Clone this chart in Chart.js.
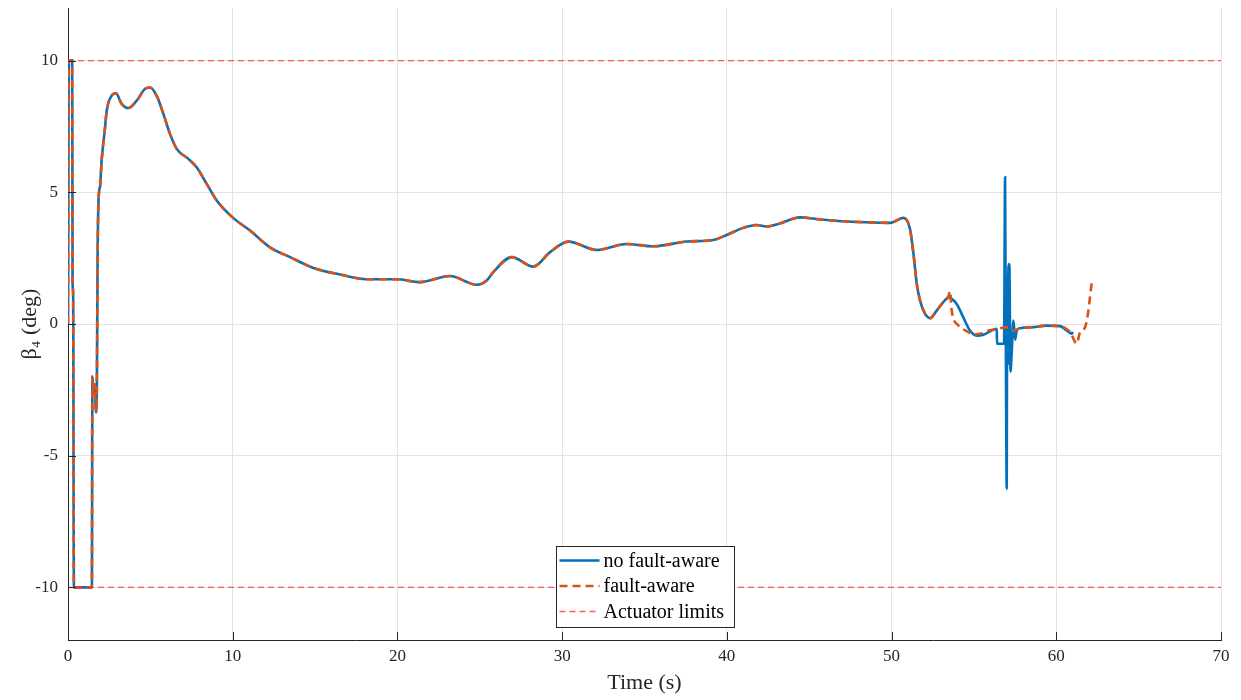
<!DOCTYPE html>
<html>
  <head>
    <title>Beta 4</title>
    <script src="https://cdn.jsdelivr.net/npm/chart.js"></script>
    <style>
      body { margin: 0; background: #fff; }
    </style>
  </head>
  <body>
    <canvas id="betaChart" width="1241" height="700"></canvas>

    <script>
      // time (s) and beta_4 (deg), run without fault awareness
      const tNoFault = [
        0, 0.05, 0.25, 0.28, 0.31, 0.36, 1.45, 1.48, 1.55, 1.62, 1.7, 1.75, 1.8, 1.9, 1.94,
        2.04, 2.25, 2.35, 2.65, 2.91, 3.26, 3.66, 4.17, 4.68, 4.98, 5.38, 5.79, 6.19, 6.6,
        7.31, 7.81, 8.42, 9.03, 10.04, 11.05, 12.26, 13.48, 14.9, 16.51, 18.13, 19.96,
        21.37, 23.19, 24.81, 25.42, 25.82, 26.94, 28.25, 29.27, 30.38, 32.1, 33.92, 35.54,
        37.56, 39.18, 39.99, 41.0, 41.81, 42.42, 43.23, 44.44, 45.66, 47.07, 48.69, 49.91,
        50.72, 51.12, 51.33, 51.53, 51.73, 52.03, 52.34, 52.74, 53.14, 53.45, 53.94, 54.35,
        54.76, 55.17, 55.57, 55.98, 56.39, 56.4, 56.83, 56.89, 56.95, 56.99, 57.02, 57.05,
        57.09, 57.15, 57.22, 57.3, 57.4, 57.5, 57.6, 57.8, 58.6, 59.42, 60.23, 60.64, 60.94, 61.0
      ];
      const betaNoFault = [
        0, 10, 10, 1.5, 1.2, -10, -10, -2.0, -2.6, -2.3, -3.35, -2.5, 2.8, 5.1, 5.19,
        6.2, 7.47, 8.1, 8.67, 8.76, 8.36, 8.2, 8.48, 8.93, 8.98, 8.67, 7.98, 7.22, 6.65,
        6.27, 5.95, 5.32, 4.69, 4.02, 3.55, 2.91, 2.54, 2.13, 1.88, 1.7, 1.7,
        1.59, 1.82, 1.49, 1.65, 1.97, 2.54, 2.18, 2.73, 3.13, 2.81, 3.04, 2.95,
        3.13, 3.19, 3.38, 3.65, 3.76, 3.7, 3.82, 4.05, 3.97, 3.9, 3.86, 3.84,
        4.03, 3.6, 2.66, 1.53, 0.89, 0.39, 0.22, 0.51, 0.83, 1.0, 0.77, 0.26,
        -0.25, -0.44, -0.41, -0.28, -0.18, -0.75, -0.75, 5.57, -2.5, -6.25, 1.8, -1.5,
        2.1, 2.28, -1.8, -1.0, 0.13, -0.6, -0.25, -0.16, -0.12, -0.06, -0.08, -0.25, -0.37, -0.3
      ];

      // time (s) and beta_4 (deg), fault-aware run
      const tFault = [
        0, 0.05, 0.25, 0.28, 0.31, 0.36, 1.45, 1.48, 1.55, 1.62, 1.7, 1.75, 1.8, 1.9, 1.94,
        2.04, 2.25, 2.35, 2.65, 2.91, 3.26, 3.66, 4.17, 4.68, 4.98, 5.38, 5.79, 6.19, 6.6,
        7.31, 7.81, 8.42, 9.03, 10.04, 11.05, 12.26, 13.48, 14.9, 16.51, 18.13, 19.96,
        21.37, 23.19, 24.81, 25.42, 25.82, 26.94, 28.25, 29.27, 30.38, 32.1, 33.92, 35.54,
        37.56, 39.18, 39.99, 41.0, 41.81, 42.42, 43.23, 44.44, 45.66, 47.07, 48.69, 49.91,
        50.72, 51.12, 51.33, 51.53, 51.73, 52.03, 52.34, 52.74, 53.14, 53.45, 53.55, 53.65,
        54.05, 54.5, 55.0, 55.37, 55.9, 56.3, 57.1, 57.4, 57.8, 58.6, 59.42, 60.23, 60.64,
        60.9, 61.04, 61.24, 61.44, 61.75, 61.95, 62.15, 62.2
      ];
      const betaFault = [
        0, 10, 10, 1.5, 1.2, -10, -10, -2.0, -2.6, -2.3, -3.35, -2.5, 2.8, 5.1, 5.19,
        6.2, 7.47, 8.1, 8.67, 8.76, 8.36, 8.2, 8.48, 8.93, 8.98, 8.67, 7.98, 7.22, 6.65,
        6.27, 5.95, 5.32, 4.69, 4.02, 3.55, 2.91, 2.54, 2.13, 1.88, 1.7, 1.7,
        1.59, 1.82, 1.49, 1.65, 1.97, 2.54, 2.18, 2.73, 3.13, 2.81, 3.04, 2.95,
        3.13, 3.19, 3.38, 3.65, 3.76, 3.7, 3.82, 4.05, 3.97, 3.9, 3.86, 3.84,
        4.03, 3.6, 2.66, 1.53, 0.89, 0.39, 0.22, 0.51, 0.83, 1.05, 1.25, 0.51,
        -0.05, -0.25, -0.4, -0.37, -0.25, -0.2, -0.12, -0.25, -0.16, -0.12, -0.06, -0.08, -0.2,
        -0.35, -0.56, -0.75, -0.31, -0.12, 0.51, 1.53, 1.6
      ];

      const limitValues = [10, -10];
      const xRange = [0, 70];
      const yRange = [-12, 12];
      const xTicks = [0, 10, 20, 30, 40, 50, 60, 70];
      const yTicks = [-10, -5, 0, 5, 10];

      const serif = "'Liberation Serif', 'DejaVu Serif', serif";
      const ink = "#262626";

      const toPoints = (xs, ys) => xs.map((x, i) => ({ x: x, y: ys[i] }));
      const limitLine = (v) => [{ x: xRange[0], y: v }, { x: xRange[1], y: v }];

      // lower "order" is painted on top
      const datasets = [
        {
          label: "no fault-aware",
          data: toPoints(tNoFault, betaNoFault),
          borderColor: "#0072BD",
          borderWidth: 2.6,
          cubicInterpolationMode: "monotone",
          order: 2,
          inLegend: true,
        },
        {
          label: "fault-aware",
          data: toPoints(tFault, betaFault),
          borderColor: "#D95319",
          borderWidth: 2.6,
          borderDash: [8, 5],
          cubicInterpolationMode: "monotone",
          order: 1,
          inLegend: true,
        },
        {
          label: "Actuator limits",
          data: limitLine(limitValues[0]),
          borderColor: "rgba(255, 40, 40, 0.75)",
          borderWidth: 1.3,
          borderDash: [6, 4],
          order: 0,
          inLegend: true,
        },
        {
          label: "Actuator limits (lower)",
          data: limitLine(limitValues[1]),
          borderColor: "rgba(255, 40, 40, 0.75)",
          borderWidth: 1.3,
          borderDash: [6, 4],
          order: 0,
          inLegend: false,
        },
      ];

      // tick marks pointing into the plot
      const innerTicks = {
        id: "innerTicks",
        afterDatasetsDraw(chart) {
          const { ctx, chartArea, scales } = chart;
          ctx.save();
          ctx.strokeStyle = ink;
          ctx.lineWidth = 1;
          xTicks.forEach((v) => {
            const px = Math.round(scales.x.getPixelForValue(v)) + 0.5;
            ctx.beginPath();
            ctx.moveTo(px, chartArea.bottom);
            ctx.lineTo(px, chartArea.bottom - 8);
            ctx.stroke();
          });
          yTicks.forEach((v) => {
            const py = Math.round(scales.y.getPixelForValue(v)) + 0.5;
            ctx.beginPath();
            ctx.moveTo(chartArea.left, py);
            ctx.lineTo(chartArea.left + 8, py);
            ctx.stroke();
          });
          ctx.restore();
        },
      };

      // boxed legend near the bottom centre of the plot
      const boxLegend = {
        id: "boxLegend",
        afterDraw(chart) {
          const { ctx, chartArea } = chart;
          const items = chart.data.datasets.filter((d) => d.inLegend);
          const w = 178, h = 81, rowH = 25.5;
          const x0 = Math.round((chartArea.left + chartArea.right) / 2 - w / 2) + 0.5;
          const y0 = Math.round(chartArea.bottom - 13 - h) + 0.5;
          ctx.save();
          ctx.fillStyle = "#fff";
          ctx.fillRect(x0, y0, w, h);
          ctx.strokeStyle = ink;
          ctx.lineWidth = 1;
          ctx.setLineDash([]);
          ctx.strokeRect(x0, y0, w, h);
          ctx.font = "20px " + serif;
          ctx.textBaseline = "middle";
          items.forEach((d, i) => {
            const cy = y0 + 14 + i * rowH;
            ctx.strokeStyle = d.borderColor;
            ctx.lineWidth = d.borderWidth;
            ctx.setLineDash(d.borderDash || []);
            ctx.beginPath();
            ctx.moveTo(x0 + 3, cy);
            ctx.lineTo(x0 + 43, cy);
            ctx.stroke();
            ctx.fillStyle = "#000";
            ctx.fillText(d.label, x0 + 47, cy + 1);
          });
          ctx.restore();
        },
      };

      new Chart(document.getElementById("betaChart"), {
        type: "line",
        data: { datasets: datasets },
        plugins: [innerTicks, boxLegend],
        options: {
          responsive: false,
          animation: false,
          layout: { padding: { top: 8, right: 20, left: 0, bottom: 0 } },
          elements: { point: { radius: 0 }, line: { tension: 0 } },
          plugins: { legend: { display: false }, tooltip: { enabled: false } },
          scales: {
            x: {
              type: "linear",
              min: xRange[0],
              max: xRange[1],
              afterBuildTicks: (s) => { s.ticks = xTicks.map((v) => ({ value: v })); },
              afterFit: (s) => { s.height = 60; s.paddingLeft = 0; s.paddingRight = 0; },
              grid: { color: "#e3e3e3", drawTicks: false },
              border: { color: ink, width: 1 },
              ticks: { color: ink, font: { family: serif, size: 17 }, padding: 6, maxRotation: 0 },
              title: {
                display: true,
                text: "Time (s)",
                color: ink,
                font: { family: serif, size: 22 },
                padding: { top: 4, bottom: 4 },
              },
            },
            y: {
              type: "linear",
              min: yRange[0],
              max: yRange[1],
              afterBuildTicks: (s) => { s.ticks = yTicks.map((v) => ({ value: v })); },
              afterFit: (s) => { s.width = 68; s.paddingTop = 0; s.paddingBottom = 0; },
              grid: { color: "#e3e3e3", drawTicks: false },
              border: { color: ink, width: 1 },
              ticks: { color: ink, font: { family: serif, size: 17 }, padding: 10 },
              title: {
                display: true,
                text: "β₄ (deg)",
                color: ink,
                font: { family: serif, size: 22 },
                padding: { top: 17, bottom: 17 },
              },
            },
          },
        },
      });
    </script>
  </body>
</html>
